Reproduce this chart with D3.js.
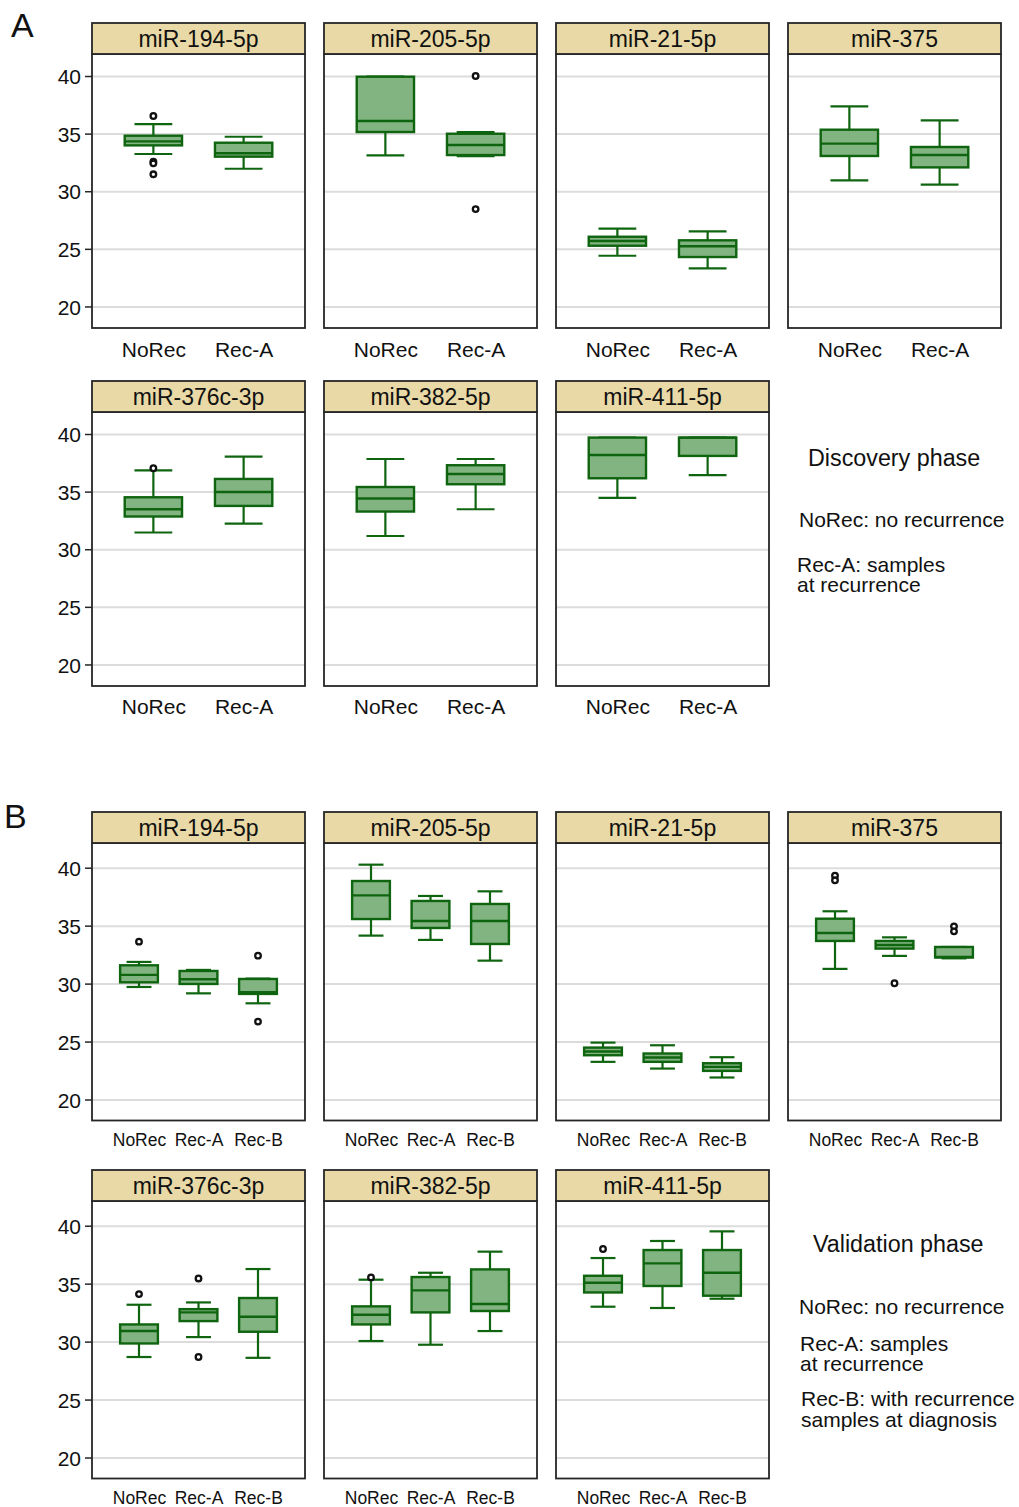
<!DOCTYPE html>
<html>
<head>
<meta charset="utf-8">
<script src="https://cdn.jsdelivr.net/npm/d3@7"></script>
<style>
  html, body { margin: 0; padding: 0; background: #fff; }
  svg { display: block; font-family: "Liberation Sans", Arial, sans-serif; }
</style>
</head>
<body>
<svg id="chart" width="1019" height="1507"></svg>
<script>
// ---------------- DATA ----------------
const mirnas = ["miR-194-5p", "miR-205-5p", "miR-21-5p", "miR-375", "miR-376c-3p", "miR-382-5p", "miR-411-5p"];
const groupsA = ["NoRec", "Rec-A"];
const groupsB = ["NoRec", "Rec-A", "Rec-B"];
const yTicks = [20, 25, 30, 35, 40];

// Discovery phase (A): one row per miRNA, one value per group
const A_lower  = [[33.23, 31.95], [33.11, 33.05], [24.40, 23.30], [30.94, 30.57], [31.45, 32.23], [31.15, 33.47], [34.45, 36.44]];
const A_q1     = [[33.98, 33.00], [35.14, 33.14], [25.27, 24.29], [33.06, 32.07], [32.84, 33.76], [33.27, 35.64], [36.16, 38.10]];
const A_median = [[34.33, 33.29], [36.09, 34.01], [25.68, 25.22], [34.13, 33.14], [33.47, 34.97], [34.40, 36.53], [38.18, 39.69]];
const A_q3     = [[34.82, 34.21], [39.94, 34.99], [26.05, 25.74], [35.34, 33.84], [34.51, 36.10], [35.40, 37.29], [39.69, 39.69]];
const A_upper  = [[35.83, 34.73], [39.94, 35.14], [26.75, 26.52], [37.37, 36.15], [36.85, 38.04], [37.83, 37.83], [39.69, 39.69]];
const A_outliers = [
  [[36.53, 32.56, 32.42, 31.47], []],
  [[], [40.0, 28.45]],
  [[], []],
  [[], []],
  [[37.03], []],
  [[], []],
  [[], []]
];

// Validation phase (B)
const B_lower  = [[29.71, 29.16, 28.30], [34.14, 33.77, 31.98], [23.25, 22.67, 21.90], [31.27, 32.39, 32.18], [28.67, 30.39, 28.60], [30.05, 29.73, 30.91], [33.01, 32.90, 33.70]];
const B_q1     = [[30.11, 29.97, 29.11], [35.57, 34.80, 33.42], [23.82, 23.25, 22.47], [33.68, 33.02, 32.25], [29.84, 31.77, 30.85], [31.48, 32.52, 32.64], [34.24, 34.80, 33.96]];
const B_median = [[30.75, 30.37, 29.25], [37.61, 35.40, 35.40], [24.14, 23.62, 22.82], [34.37, 33.33, 32.30], [30.91, 32.52, 32.14], [32.32, 34.42, 33.24], [35.08, 36.75, 35.94]];
const B_q3     = [[31.58, 31.09, 30.40], [38.85, 37.13, 36.87], [24.48, 23.97, 23.13], [35.60, 33.68, 33.16], [31.48, 32.80, 33.76], [33.04, 35.57, 36.23], [35.68, 37.90, 37.90]];
const B_upper  = [[31.87, 31.18, 30.43], [40.26, 37.56, 37.96], [24.91, 24.68, 23.65], [36.24, 33.99, 33.16], [33.18, 33.38, 36.26], [35.34, 35.94, 37.76], [37.21, 38.68, 39.51]];
const B_outliers = [
  [[33.62], [], [32.41, 26.72]],
  [[], [], []],
  [[], [], []],
  [[39.31, 38.91], [30.03], [34.94, 34.51]],
  [[34.10], [35.45, 28.67], []],
  [[35.54], [], []],
  [[37.99], [], []]
];

const legendA = ["NoRec: no recurrence", "Rec-A: samples", "at recurrence"];
const legendB = ["NoRec: no recurrence", "Rec-A: samples", "at recurrence", "Rec-B: with recurrence", "samples at diagnosis"];

// ---------------- LAYOUT ----------------
const svg = d3.select("#chart");
const colX = [92, 324, 556, 788];
const panelW = 213;
const headerH = 31;
const COL = {
  header: "#e8d9a6",
  border: "#262626",
  grid: "#dcdcdc",
  boxFill: "#82b482",
  boxStroke: "#0f640f",
  text: "#111"
};

const phases = [
  {
    letter: "A", letterY: 37, groups: groupsA, pad: 0.68,
    rows: [23, 381], plotH: 274, yDomain: [18.13, 41.91],
    xLabelFont: 21, xLabelDy: [28.7, 27.6],
    lower: A_lower, q1: A_q1, median: A_median, q3: A_q3, upper: A_upper, outliers: A_outliers,
    title: "Discovery phase", titleX: 808, titleY: 466,
    legend: legendA, legendX: [799, 797, 797], legendY: [526.7, 571.7, 592.3]
  },
  {
    letter: "B", letterY: 828, groups: groupsB, pad: 0.79,
    rows: [812, 1170], plotH: 277.5, yDomain: [18.19, 42.13],
    xLabelFont: 17.5, xLabelDy: [25.7, 25],
    lower: B_lower, q1: B_q1, median: B_median, q3: B_q3, upper: B_upper, outliers: B_outliers,
    title: "Validation phase", titleX: 813, titleY: 1252.3,
    legend: legendB, legendX: [799, 800, 800, 801, 801], legendY: [1314, 1350.7, 1371, 1405.7, 1426.7]
  }
];

phases.forEach(ph => {
  // panel letter
  svg.append("text")
    .attr("x", ph.letter === "A" ? 11 : 4)
    .attr("y", ph.letterY)
    .attr("font-size", 34)
    .attr("fill", COL.text)
    .text(ph.letter);

  mirnas.forEach((name, i) => {
    const row = i < 4 ? 0 : 1;
    const col = i < 4 ? i : i - 4;
    const x0 = colX[col];
    const top = ph.rows[row];
    const plotTop = top + headerH;
    const plotBottom = plotTop + ph.plotH;

    const y = d3.scaleLinear().domain(ph.yDomain).range([plotBottom, plotTop]);
    const x = d3.scalePoint().domain(ph.groups).range([x0, x0 + panelW]).padding(ph.pad);
    const step = x.step();
    const boxW = step * 0.635;
    const capW = boxW * 0.66;

    const g = svg.append("g");

    // panel background
    g.append("rect")
      .attr("x", x0).attr("y", plotTop)
      .attr("width", panelW).attr("height", ph.plotH)
      .attr("fill", "#fff");

    // gridlines
    const grid = g.append("g")
      .attr("transform", `translate(${x0},0)`)
      .call(d3.axisLeft(y).tickValues(yTicks).tickSize(-panelW).tickFormat(""));
    grid.select(".domain").remove();
    grid.selectAll(".tick line").attr("stroke", COL.grid).attr("stroke-width", 2);

    // y axis only in first column
    if (col === 0) {
      const ax = g.append("g")
        .attr("transform", `translate(${x0},0)`)
        .call(d3.axisLeft(y).tickValues(yTicks).tickSize(7).tickPadding(4));
      ax.select(".domain").remove();
      ax.selectAll(".tick line").attr("stroke", COL.border).attr("stroke-width", 1.5);
      ax.selectAll(".tick text")
        .attr("font-size", 21)
        .attr("font-family", "Liberation Sans, Arial, sans-serif")
        .attr("fill", COL.text)
        .attr("dy", "0.36em");
    }

    // boxes
    ph.groups.forEach((grp, j) => {
      const cx = x(grp);
      const lo = ph.lower[i][j], q1 = ph.q1[i][j], md = ph.median[i][j], q3 = ph.q3[i][j], up = ph.upper[i][j];
      const bg = g.append("g");
      // whiskers
      bg.append("line").attr("x1", cx).attr("x2", cx).attr("y1", y(up)).attr("y2", y(q3))
        .attr("stroke", COL.boxStroke).attr("stroke-width", 2.2);
      bg.append("line").attr("x1", cx).attr("x2", cx).attr("y1", y(q1)).attr("y2", y(lo))
        .attr("stroke", COL.boxStroke).attr("stroke-width", 2.2);
      bg.append("line").attr("x1", cx - capW / 2).attr("x2", cx + capW / 2).attr("y1", y(up)).attr("y2", y(up))
        .attr("stroke", COL.boxStroke).attr("stroke-width", 2.2);
      bg.append("line").attr("x1", cx - capW / 2).attr("x2", cx + capW / 2).attr("y1", y(lo)).attr("y2", y(lo))
        .attr("stroke", COL.boxStroke).attr("stroke-width", 2.2);
      // box
      bg.append("rect")
        .attr("x", cx - boxW / 2).attr("y", y(q3))
        .attr("width", boxW).attr("height", Math.max(0.5, y(q1) - y(q3)))
        .attr("fill", COL.boxFill).attr("stroke", COL.boxStroke).attr("stroke-width", 2.4);
      // median
      bg.append("line").attr("x1", cx - boxW / 2).attr("x2", cx + boxW / 2).attr("y1", y(md)).attr("y2", y(md))
        .attr("stroke", COL.boxStroke).attr("stroke-width", 2.4);
      // outliers
      bg.selectAll("circle.out").data(ph.outliers[i][j]).enter().append("circle")
        .attr("class", "out")
        .attr("cx", cx).attr("cy", d => y(d)).attr("r", 2.8)
        .attr("fill", "#fff").attr("stroke", "#111").attr("stroke-width", 2.3);
    });

    // x axis labels
    const xa = g.append("g")
      .attr("transform", `translate(0,${plotBottom})`)
      .call(d3.axisBottom(x).tickSize(0));
    xa.select(".domain").remove();
    xa.selectAll(".tick text")
      .attr("y", ph.xLabelDy[row]).attr("dy", 0)
      .attr("font-size", ph.xLabelFont)
      .attr("font-family", "Liberation Sans, Arial, sans-serif")
      .attr("fill", COL.text);

    // panel border
    g.append("rect")
      .attr("x", x0).attr("y", plotTop)
      .attr("width", panelW).attr("height", ph.plotH)
      .attr("fill", "none").attr("stroke", COL.border).attr("stroke-width", 1.8);

    // header strip
    g.append("rect")
      .attr("x", x0).attr("y", top)
      .attr("width", panelW).attr("height", headerH)
      .attr("fill", COL.header).attr("stroke", COL.border).attr("stroke-width", 1.8);
    g.append("text")
      .attr("x", x0 + panelW / 2).attr("y", top + 24)
      .attr("text-anchor", "middle")
      .attr("font-size", 23)
      .attr("fill", COL.text)
      .text(name);
  });

  // legend
  svg.append("text")
    .attr("x", ph.titleX).attr("y", ph.titleY)
    .attr("font-size", 23.3).attr("fill", COL.text)
    .text(ph.title);
  ph.legend.forEach((t, k) => {
    svg.append("text")
      .attr("x", ph.legendX[k]).attr("y", ph.legendY[k])
      .attr("font-size", 21).attr("fill", COL.text)
      .text(t);
  });
});
</script>
</body>
</html>
